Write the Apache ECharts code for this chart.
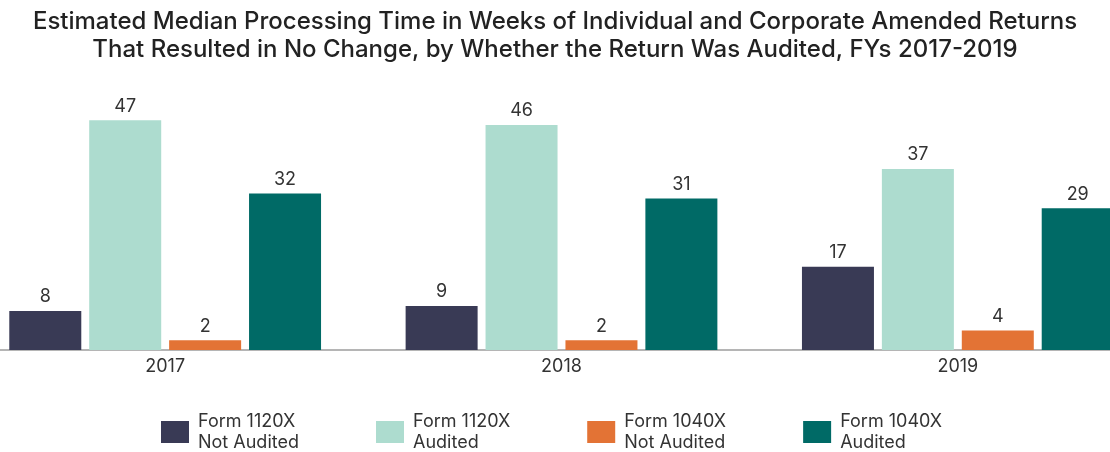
<!DOCTYPE html>
<html>
<head>
<meta charset="utf-8">
<script src="https://cdn.jsdelivr.net/npm/echarts@6/dist/echarts.min.js"></script>
<style>
  html, body { margin: 0; padding: 0; background: #fff; }
  #chart { width: 1110px; height: 452px; }
</style>
</head>
<body>
<div id="chart"></div>
<script>
// data
var years = ['2017', '2018', '2019'];
var seriesNames = ['Form 1120X\nNot Audited', 'Form 1120X\nAudited', 'Form 1040X\nNot Audited', 'Form 1040X\nAudited'];
var f1120xNotAudited = [8, 9, 17];
var f1120xAudited = [47, 46, 37];
var f1040xNotAudited = [2, 2, 4];
var f1040xAudited = [32, 31, 29];
var colors = ['#393a55', '#addccf', '#e37335', '#006a66'];

var chart = echarts.init(document.getElementById('chart'));

var values = [f1120xNotAudited, f1120xAudited, f1040xNotAudited, f1040xAudited];
var series = values.map(function (v, i) {
    return {
        name: seriesNames[i],
        type: 'bar',
        data: v,
        barWidth: 72,
        barGap: '11%',
        itemStyle: {color: colors[i]},
        label: {
            show: true,
            position: 'top',
            distance: 5,
            fontFamily: 'Inter',
            fontSize: 18,
            color: '#333'
        }
    };
});

var option = {
    animation: false,
    textStyle: {fontFamily: 'Inter'},
    title: {
        text: 'Estimated Median Processing Time in Weeks of Individual and Corporate Amended Returns\nThat Resulted in No Change, by Whether the Return Was Audited, FYs 2017-2019',
        left: 'center',
        top: 8,
        padding: 0,
        textStyle: {
            fontFamily: 'Inter',
            fontSize: 24,
            fontWeight: 500,
            lineHeight: 28,
            color: '#222'
        }
    },
    legend: {
        left: 161,
        top: 411,
        padding: 0,
        itemWidth: 28,
        itemHeight: 22,
        itemGap: 77,
        icon: 'rect',
        textStyle: {
            fontFamily: 'Inter',
            fontSize: 18,
            lineHeight: 21,
            color: '#333',
            padding: [0, 0, 0, 4]
        }
    },
    grid: {
        left: -33, right: -46, top: 105.5, bottom: 102,
        containLabel: false,
        outerBoundsMode: 'none'
    },
    xAxis: {
        type: 'category',
        data: years,
        axisTick: {show: false},
        axisLine: {lineStyle: {color: '#b5b5b5', width: 2}},
        axisLabel: {fontFamily: 'Inter', fontSize: 18, color: '#333', margin: 8}
    },
    yAxis: {
        type: 'value',
        min: 0,
        max: 50,
        show: false,
        splitLine: {show: false}
    },
    series: series
};

chart.setOption(option);
</script>
</body>
</html>
